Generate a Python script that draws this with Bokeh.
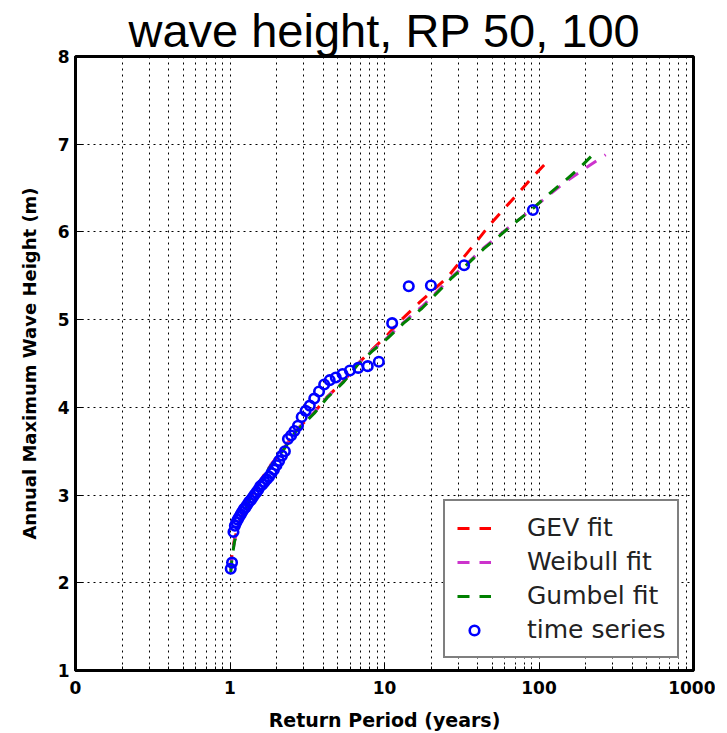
from bokeh.plotting import figure
from bokeh.models import (Range1d, FixedTicker, CustomJSTickFormatter, Legend, LegendItem)
from bokeh.embed import file_html
from bokeh.resources import INLINE

# ---- data ----
# observed annual maxima: return period (years) and wave height (m)
series_rp = [91.29, 32.77, 19.97, 14.36, 11.21, 9.19, 7.79, 6.76, 5.97, 5.35,
             4.84, 4.42, 4.07, 3.77, 3.51, 3.285, 3.087, 2.911, 2.754, 2.613,
             2.486, 2.371, 2.266, 2.170, 2.081, 2.000, 1.925, 1.855, 1.790, 1.729,
             1.673, 1.620, 1.570, 1.523, 1.479, 1.438, 1.398, 1.361, 1.326, 1.292,
             1.260, 1.230, 1.201, 1.174, 1.147, 1.122, 1.098, 1.075, 1.053, 1.031, 1.011]
series_hs = [6.25, 5.62, 5.39, 5.38, 4.96, 4.52, 4.47, 4.45, 4.42, 4.38,
             4.34, 4.31, 4.26, 4.18, 4.10, 4.02, 3.96, 3.89, 3.79, 3.73,
             3.68, 3.64, 3.50, 3.45, 3.39, 3.34, 3.29, 3.25, 3.21, 3.18,
             3.15, 3.12, 3.10, 3.06, 3.03, 3.00, 2.97, 2.94, 2.92, 2.89,
             2.86, 2.84, 2.81, 2.78, 2.75, 2.72, 2.69, 2.65, 2.58, 2.23, 2.16]

gev_rp = [1.011, 1.033, 1.07, 1.17, 1.36, 1.58, 1.83, 2.23, 2.65, 3.5, 4.26, 5.45,
          6.66, 8.33, 10.5, 12.7, 16.7, 25.5, 31.8, 39.8, 48.5, 59.2, 74.0, 92.5, 113.0, 118.7]
gev_hs = [2.18, 2.34, 2.50, 2.73, 2.98, 3.17, 3.34, 3.53, 3.73, 3.94, 4.12, 4.30,
          4.49, 4.66, 4.83, 4.99, 5.19, 5.48, 5.69, 5.90, 6.09, 6.26, 6.45, 6.64, 6.80, 6.85]

weibull_rp = [1.011, 1.033, 1.07, 1.17, 1.36, 1.58, 1.83, 2.23, 2.65, 3.5, 4.26, 5.45,
              6.66, 8.33, 10.5, 13.3, 17.5, 27.4, 34.3, 44.0, 55.0, 70.4, 90.4, 115.7,
              148.5, 205.0, 270.0]
weibull_hs = [2.14, 2.31, 2.48, 2.72, 2.98, 3.17, 3.34, 3.53, 3.73, 3.94, 4.12, 4.30,
              4.49, 4.65, 4.80, 4.97, 5.15, 5.49, 5.64, 5.82, 5.96, 6.11, 6.26, 6.42,
              6.57, 6.74, 6.88]

gumbel_rp = [1.011, 1.033, 1.07, 1.17, 1.36, 1.58, 1.83, 2.23, 2.65, 3.5, 4.26, 5.45,
             6.66, 8.33, 10.5, 13.3, 17.5, 27.4, 34.3, 44.0, 55.0, 70.4, 90.4, 115.7,
             148.5, 185.7, 226.0]
gumbel_hs = [2.12, 2.30, 2.47, 2.71, 2.97, 3.16, 3.33, 3.52, 3.72, 3.93, 4.11, 4.29,
             4.48, 4.64, 4.79, 4.96, 5.13, 5.48, 5.63, 5.81, 5.95, 6.11, 6.26, 6.43,
             6.59, 6.74, 6.89]

x_ticks = [0.1, 1, 10, 100, 1000]
x_tick_labels = ["0", "1", "10", "100", "1000"]
y_ticks = [1, 2, 3, 4, 5, 6, 7, 8]
x_minor = [m * 10.0 ** e for e in range(-1, 3) for m in range(2, 10)]

TICK_FONT = "DejaVu Sans"

p = figure(x_axis_type="log", x_range=Range1d(0.1, 1000), y_range=Range1d(1, 8),
           frame_width=618, frame_height=614,
           min_border_left=75, min_border_right=22, min_border_top=56, min_border_bottom=10,
           output_backend="svg", toolbar_location=None,
           title="wave height, RP 50, 100")

p.title.text_font = "Liberation Sans"
p.title.text_font_size = "47px"
p.title.text_font_style = "normal"
p.title.align = "center"
p.title.text_color = "black"
p.title.standoff = 0

p.background_fill_color = "white"
p.border_fill_color = "white"
p.outline_line_color = "black"
p.outline_line_width = 3

fmt = CustomJSTickFormatter(args=dict(tv=x_ticks, lv=x_tick_labels), code="""
let best = 0;
for (let k = 0; k < tv.length; k++) {
  if (Math.abs(Math.log10(tv[k]) - Math.log10(tick)) < Math.abs(Math.log10(tv[best]) - Math.log10(tick))) best = k;
}
return lv[best];
""")

xticker = FixedTicker(ticks=x_ticks, minor_ticks=x_minor)
yticker = FixedTicker(ticks=y_ticks)

xa = p.xaxis[0]
xa.ticker = xticker
xa.formatter = fmt
xa.axis_label = "Return Period (years)"
ya = p.yaxis[0]
ya.ticker = yticker
ya.axis_label = "Annual Maximum Wave Height (m)"

for ax in (xa, ya):
    ax.axis_line_color = "black"
    ax.axis_line_width = 3
    ax.major_tick_in = 8
    ax.major_tick_out = 0
    ax.minor_tick_in = 4
    ax.minor_tick_out = 0
    ax.major_tick_line_color = "black"
    ax.minor_tick_line_color = "black"
    ax.major_label_text_font = TICK_FONT
    ax.major_label_text_font_style = "bold"
    ax.major_label_text_font_size = "17px"
    ax.major_label_text_color = "black"
    ax.axis_label_text_font = TICK_FONT
    ax.axis_label_text_font_style = "bold"
    ax.axis_label_text_color = "black"
ya.minor_tick_line_color = None
xa.axis_label_text_font_size = "19px"
ya.axis_label_text_font_size = "18px"
xa.major_label_standoff = 10
xa.axis_label_standoff = 12
ya.major_label_standoff = 6
ya.axis_label_standoff = 15

p.xgrid.ticker = xticker
p.ygrid.ticker = yticker
p.xgrid.grid_line_color = "black"
p.xgrid.grid_line_dash = "2 4"
p.xgrid.grid_line_width = 1
p.xgrid.minor_grid_line_color = "black"
p.xgrid.minor_grid_line_dash = "2 4"
p.xgrid.minor_grid_line_width = 1
p.ygrid.grid_line_color = "black"
p.ygrid.grid_line_dash = "2 4"
p.ygrid.grid_line_width = 1

DASH = "12 10"
r_gev = p.line(gev_rp, gev_hs, line_color="red", line_width=3, line_dash=DASH)
r_wei = p.line(weibull_rp, weibull_hs, line_color="#cc33cc", line_width=3, line_dash=DASH)
r_gum = p.line(gumbel_rp, gumbel_hs, line_color="green", line_width=3, line_dash=DASH)
r_ts = p.scatter(series_rp, series_hs, marker="circle", size=9.5, fill_color=None,
                 line_color="blue", line_width=2.6)

legend = Legend(items=[
    LegendItem(label="GEV fit", renderers=[r_gev]),
    LegendItem(label="Weibull fit", renderers=[r_wei]),
    LegendItem(label="Gumbel fit", renderers=[r_gum]),
    LegendItem(label="time series", renderers=[r_ts]),
], location=(368, 12))
legend.label_text_font = "DejaVu Sans"
legend.label_text_font_size = "25px"
legend.label_text_color = "#222222"
legend.glyph_width = 34
legend.glyph_height = 24
legend.label_height = 24
legend.label_standoff = 36
legend.spacing = 5
legend.padding = 12
legend.margin = 0
legend.border_line_color = "black"
legend.border_line_width = 2
legend.background_fill_color = "white"
legend.background_fill_alpha = 1
p.add_layout(legend)

open("out.html", "w").write(file_html(p, INLINE))
